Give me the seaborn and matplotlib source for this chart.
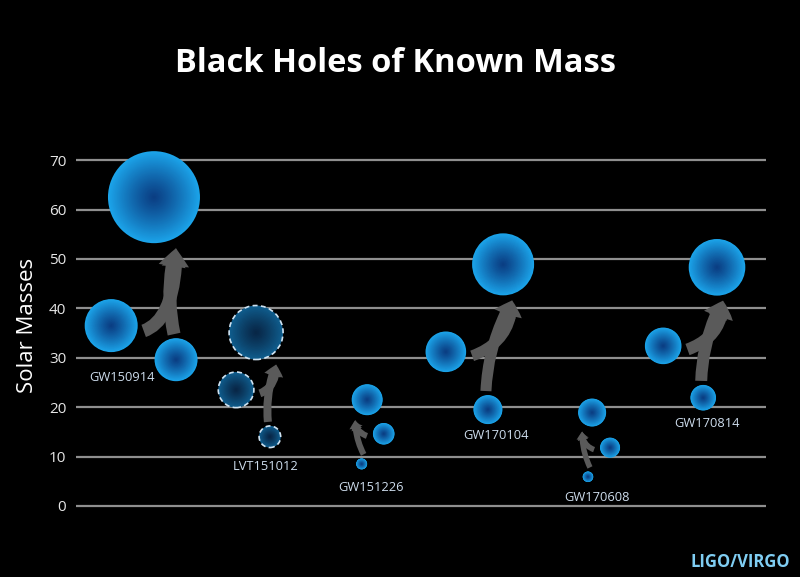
import numpy as np
import pandas as pd
import seaborn as sns
import matplotlib.pyplot as plt
from matplotlib.patches import FancyArrowPatch, ArrowStyle
from matplotlib.colors import to_rgb

# Data (solar masses)
events = ['GW150914', 'LVT151012', 'GW151226', 'GW170104', 'GW170608', 'GW170814']
primary_mass = [36.5, 23.5, 14.6, 31.2, 11.8, 32.4]
secondary_mass = [29.6, 14.0, 8.5, 19.5, 5.9, 21.9]
final_mass = [62.5, 35.1, 21.5, 48.9, 18.9, 48.3]
confirmed = [True, False, True, True, True, True]
y_ticks = [0, 10, 20, 30, 40, 50, 60, 70]

# Layout: horizontal placement of each bubble (axis runs 0..100)
x_primary = [5.1, 23.2, 44.6, 53.6, 77.4, 85.1]
x_secondary = [14.5, 28.1, 41.4, 59.7, 74.2, 90.9]
x_final = [11.3, 26.1, 42.2, 61.9, 74.8, 92.9]
# bubble radii in pixels
r_primary = [26.5, 17.8, 10.8, 20.3, 10.0, 18.3]
r_secondary = [21.5, 10.8, 5.5, 14.5, 5.3, 12.8]
r_final = [46.0, 27.0, 15.5, 31.0, 14.0, 28.3]
# arrow tip offset from the final bubble centre, and arrow tail width (pixels)
arrow_dx = [22, 20, -12, 9, -10, 6]
arrow_w = [13, 8, 6, 11, 5.5, 12]
label_pos = [(6.7, 26.0), (27.5, 7.9), (42.8, 3.8), (60.9, 14.2), (75.5, 1.8), (91.4, 16.6)]

PX_X = 6.9     # pixels per x unit
PX_Y = 4.93    # pixels per solar mass

rows = []
for i, ev in enumerate(events):
    for role, xs, ms, rs in [('primary', x_primary, primary_mass, r_primary),
                             ('secondary', x_secondary, secondary_mass, r_secondary),
                             ('final', x_final, final_mass, r_final)]:
        rows.append({'event': ev, 'role': role, 'x': xs[i], 'mass': ms[i],
                     'r_px': rs[i], 'confirmed': confirmed[i]})
df = pd.DataFrame(rows)
df['s'] = (2 * df['r_px'] * 0.72) ** 2

sns.set_theme(style='dark')
plt.rcParams['font.family'] = ['Open Sans', 'DejaVu Sans']

fig = plt.figure(figsize=(8, 5.77), dpi=100, facecolor='black')
ax = fig.add_axes([0.095, 0.0804, 0.8625, 0.6849])
ax.set_facecolor('black')
ax.set_xlim(0, 100)
ax.set_ylim(-5, 75)
ax.set_yticks(y_ticks)
ax.set_xticks([])
ax.grid(axis='y', color='#8f8f8f', lw=1.6)
ax.grid(axis='x', visible=False)
for sp in ax.spines.values():
    sp.set_visible(False)
ax.tick_params(axis='y', colors='#e6e6e6', labelsize=11, length=0, pad=7)
ax.set_ylabel('Solar Masses', color='white', fontsize=16)
ax.yaxis.set_label_coords(-0.055, 0.52)

# arrows (drawn under bubbles): one from the primary, one from the secondary,
# both meeting under the final black hole
arrow_color = '#5a5a5a'
for i in range(len(events)):
    sign = 1 if x_primary[i] < x_final[i] else -1
    tip = (x_final[i] + arrow_dx[i] / PX_X, final_mass[i] - (r_final[i] + 5) / PX_Y)
    start_a = (x_primary[i] + sign * (r_primary[i] + 6) / PX_X,
               primary_mass[i] - 0.2 * r_primary[i] / PX_Y)
    start_b = (x_secondary[i] - sign * 2.0 / PX_X, secondary_mass[i] + (r_secondary[i] + 4) / PX_Y)
    tw = arrow_w[i] * 0.72
    style = ArrowStyle('Simple', head_length=tw * 1.4, head_width=tw * 2.1, tail_width=tw)
    ang_a = 20 if sign > 0 else 160
    for start, conn in [(start_a, f'angle3,angleA={ang_a},angleB=90'),
                        (start_b, 'arc3,rad=-0.12')]:
        ax.add_patch(FancyArrowPatch(start, tip, arrowstyle=style,
                                     connectionstyle=conn,
                                     color=arrow_color, lw=0, shrinkA=0, shrinkB=0,
                                     zorder=2))

# bubbles: base layer then radial gradient layers
bright = np.array(to_rgb('#1ba4ea'))
dark = np.array(to_rgb('#0a3d82'))
bright_dim = np.array(to_rgb('#0f5e8e'))
dark_dim = np.array(to_rgb('#082646'))

edge_cols = np.where(df['confirmed'].values[:, None], bright, bright_dim)
core_cols = np.where(df['confirmed'].values[:, None], dark, dark_dim)

sns.scatterplot(data=df, x='x', y='mass', s=df['s'], color='#1ba4ea', linewidth=0,
                legend=False, ax=ax, zorder=3)
ax.collections[-1].set_facecolor(edge_cols)

n_layers = 40
for k in range(1, n_layers):
    f = 1 - k / n_layers
    cols = core_cols + (edge_cols - core_cols) * f ** 1.15
    ax.scatter(df['x'], df['mass'], s=df['s'] * f ** 2, c=cols, linewidths=0, zorder=3 + k * 0.01)

# dashed outlines for the candidate event
cand = df[~df['confirmed']]
ax.scatter(cand['x'], cand['mass'], s=cand['s'], facecolors='none', edgecolors='#cfe3f2',
           linewidths=1.2, linestyle=(0, (3, 2)), zorder=4)

for ev, (lx, ly) in zip(events, label_pos):
    ax.text(lx, ly, ev, color='#cddcec', fontsize=9.3, ha='center', va='center', zorder=5)

fig.text(0.494, 0.875, 'Black Holes of Known Mass', color='white', fontsize=23.5,
         fontweight='bold', ha='center', va='baseline')
fig.text(0.9875, 0.018, 'LIGO/VIRGO', color='#7fcdf2', fontsize=12, fontweight='bold',
         ha='right', va='baseline')

fig.savefig('out.png', dpi=100, facecolor='black')
